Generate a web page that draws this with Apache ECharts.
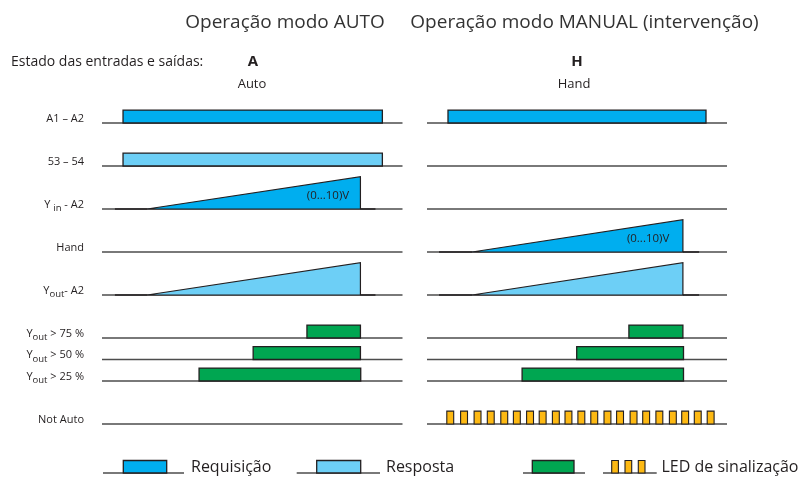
<!DOCTYPE html>
<html><head><meta charset="utf-8">
<script src="https://cdn.jsdelivr.net/npm/echarts@6/dist/echarts.min.js"></script>
<style>html,body{margin:0;padding:0;background:#fff}#c{width:803px;height:477px}</style>
</head><body><div id="c"></div>
<script>
// ---- data ----
// row labels: [main, subscript, tail]
const rowLabels = [['A1 – A2','',''],['53 – 54','',''],['Y ','in',' - A2'],['Hand','',''],['Y','out','- A2'],['Y','out',' > 75 %'],['Y','out',' > 50 %'],['Y','out',' > 25 %'],['Not Auto','','']];
const rowLevels = [0, 2, 4, 6, 8, 10, 11, 12, 14];
// time axis 0..100 per panel
// pulses: [rowIndex, on, off]
const autoPulses = [[0, 7, 93.3], [1, 7, 93.3], [5, 68.2, 86], [6, 50.3, 86], [7, 32.3, 86.1]];
const handPulses = [[0, 7, 93], [5, 67.3, 85.3], [6, 49.9, 85.5], [7, 31.7, 85.5]];
// ramps: [rowIndex, leadStart, rampStart, rampEnd, tailEnd]
const autoRamps = [[2, 4.3, 15, 86, 91], [4, 4.3, 15, 86, 91]];
const handRamps = [[3, 4, 15, 85.3, 90.7], [4, 4, 15, 85.3, 90.7]];
// ramp text: [rowIndex, x]
const rampLabel = '(0...10)V';
const autoRampText = [[2, 75.2]];
const handRampText = [[3, 73.7]];
// LED blink pulses (Not Auto row, hand mode): start times
const ledRow = 8;
const handLedStarts = [6.6, 11.2, 15.7, 20.1, 24.6, 28.8, 33.2, 37.4, 41.8, 46, 50.3, 54.6, 59, 63.2, 67.7, 71.9, 76.3, 80.8, 84.9, 89.1, 93.4];
const ledWidth = 2.3;
const pulseHigh = 0.6;
const rampHigh = 1.5;

// ---- style ----
const FONT = '"Open Sans", sans-serif';
const INK = '#231f20';
const BASE = '#4d4d4d';
const rowFill = ['#00aeef', '#6dcff6', '#00aeef', '#00aeef', '#6dcff6', '#00a651', '#00a651', '#00a651', '#fdb913'];

const chart = echarts.init(document.getElementById('c'), null, {renderer: 'canvas'});

function baseSeries(k) {
  return {type: 'custom', xAxisIndex: k, yAxisIndex: k, clip: false, silent: true,
    data: rowLevels.map(l => [l]),
    renderItem: (p, api) => {
      const l = api.value(0);
      const a = api.coord([0, l]), b = api.coord([100, l]);
      return {type: 'line', shape: {x1: a[0], y1: a[1], x2: b[0], y2: b[1]}, style: {stroke: BASE, lineWidth: 1.5}};
    }};
}
function pulseSeries(k, data) {
  return {type: 'custom', xAxisIndex: k, yAxisIndex: k, clip: false, silent: true, z: 3,
    data: data,
    renderItem: (p, api) => {
      const r = api.value(0), l = rowLevels[r];
      const a = api.coord([api.value(1), l]), b = api.coord([api.value(2), l - pulseHigh]);
      return {type: 'polygon', shape: {points: [[a[0], a[1]], [a[0], b[1]], [b[0], b[1]], [b[0], a[1]]]},
        style: {fill: rowFill[r], stroke: INK, lineWidth: 1.3}};
    }};
}
function rampSeries(k, data) {
  return {type: 'custom', xAxisIndex: k, yAxisIndex: k, clip: false, silent: true, z: 3,
    data: data,
    renderItem: (p, api) => {
      const r = api.value(0), l = rowLevels[r];
      const s0 = api.coord([api.value(1), l]);
      const s1 = api.coord([api.value(2), l]);
      const e = api.coord([api.value(3), l - rampHigh]);
      const e0 = api.coord([api.value(3), l]);
      const t = api.coord([api.value(4), l]);
      return {type: 'group', children: [
        {type: 'polygon', shape: {points: [[s1[0], s1[1]], [e[0], e[1]], [e0[0], e0[1]]]},
          style: {fill: rowFill[r], stroke: INK, lineWidth: 1.2}},
        {type: 'line', shape: {x1: s0[0], y1: s0[1], x2: s1[0], y2: s1[1]}, style: {stroke: INK, lineWidth: 1.5}},
        {type: 'line', shape: {x1: e0[0], y1: e0[1], x2: t[0], y2: t[1]}, style: {stroke: INK, lineWidth: 1.5}}
      ]};
    }};
}
function rampTextSeries(k, data) {
  return {type: 'custom', xAxisIndex: k, yAxisIndex: k, clip: false, silent: true, z: 4,
    data: data,
    renderItem: (p, api) => {
      const l = rowLevels[api.value(0)];
      const c = api.coord([api.value(1), l - 0.6]);
      return {type: 'text', x: c[0], y: c[1], style: {text: rampLabel, align: 'center', verticalAlign: 'middle',
        fontFamily: FONT, fontSize: 11.5, fill: INK}};
    }};
}
const ledSeries = {type: 'custom', xAxisIndex: 1, yAxisIndex: 1, clip: false, silent: true, z: 3,
  data: handLedStarts.map(s => [s]),
  renderItem: (p, api) => {
    const l = rowLevels[ledRow];
    const a = api.coord([api.value(0), l]), b = api.coord([api.value(0) + ledWidth, l - pulseHigh]);
    return {type: 'polygon', shape: {points: [[a[0], a[1]], [a[0], b[1]], [b[0], b[1]], [b[0], a[1]]]},
      style: {fill: rowFill[ledRow], stroke: INK, lineWidth: 1.1}};
  }};
const labelSeries = {type: 'custom', xAxisIndex: 0, yAxisIndex: 0, clip: false, silent: true,
  data: rowLevels.map((l, i) => [l, i]),
  renderItem: (p, api) => {
    const l = api.value(0), i = api.value(1);
    const c = api.coord([0, l]);
    const lab = rowLabels[i];
    const txt = lab[1] ? `{n|${lab[0]}}{s|${lab[1]}}{n|${lab[2]}}` : `{n|${lab[0]}}`;
    return {type: 'text', x: c[0] - 18, y: c[1] - 4.5, style: {text: txt, align: 'right', verticalAlign: 'middle',
      rich: {n: {fontFamily: FONT, fontSize: 11, fill: INK, lineHeight: 18, verticalAlign: 'middle'},
             s: {fontFamily: FONT, fontSize: 9.5, fill: INK, lineHeight: 10, verticalAlign: 'bottom'}}}};
  }};

function xa(k) { return {type: 'value', gridIndex: k, min: 0, max: 100, show: false}; }
function ya(k) { return {type: 'value', gridIndex: k, min: -1, max: 15, inverse: true, show: false}; }

function legendPulse(x0, x1, xl0, xl1, fill) {
  return [
    {type: 'line', shape: {x1: xl0, y1: 473, x2: xl1, y2: 473}, style: {stroke: BASE, lineWidth: 1.5}},
    {type: 'polygon', shape: {points: [[x0, 473], [x0, 460.5], [x1, 460.5], [x1, 473]]}, style: {fill: fill, stroke: INK, lineWidth: 1.3}}
  ];
}
const legendText = (x, t) => ({type: 'text', x: x, y: 467, style: {text: t, fontFamily: FONT, fontSize: 16, fill: INK, verticalAlign: 'middle'}});

const graphic = [
  {type: 'text', x: 285, y: 23, style: {text: 'Operação modo AUTO', fontFamily: FONT, fontSize: 19, fill: '#333', align: 'center', verticalAlign: 'middle'}},
  {type: 'text', x: 584.5, y: 23, style: {text: 'Operação modo MANUAL (intervenção)', fontFamily: FONT, fontSize: 19, fill: '#333', align: 'center', verticalAlign: 'middle'}},
  {type: 'text', x: 11, y: 62, style: {text: 'Estado das entradas e saídas:', fontFamily: FONT, fontSize: 14, fill: INK, verticalAlign: 'middle'}},
  {type: 'text', x: 253, y: 62, style: {text: 'A', fontFamily: FONT, fontSize: 15, fontWeight: 'bold', fill: INK, align: 'center', verticalAlign: 'middle'}},
  {type: 'text', x: 252, y: 84, style: {text: 'Auto', fontFamily: FONT, fontSize: 13, fill: INK, align: 'center', verticalAlign: 'middle'}},
  {type: 'text', x: 577, y: 62, style: {text: 'H', fontFamily: FONT, fontSize: 15, fontWeight: 'bold', fill: INK, align: 'center', verticalAlign: 'middle'}},
  {type: 'text', x: 574, y: 84, style: {text: 'Hand', fontFamily: FONT, fontSize: 13, fill: INK, align: 'center', verticalAlign: 'middle'}},
  ...legendPulse(123.3, 166.7, 103, 184, '#00aeef'),
  legendText(191, 'Requisição'),
  ...legendPulse(316.7, 360.7, 296.7, 380, '#6dcff6'),
  legendText(386, 'Resposta'),
  ...legendPulse(532.3, 574, 523, 585, '#00a651'),
  {type: 'line', shape: {x1: 603, y1: 473, x2: 656.7, y2: 473}, style: {stroke: BASE, lineWidth: 1.5}},
  ...[611.7, 625, 638.3].map(x => ({type: 'polygon', shape: {points: [[x, 473], [x, 460.5], [x + 6.7, 460.5], [x + 6.7, 473]]}, style: {fill: '#fdb913', stroke: INK, lineWidth: 1.1}})),
  legendText(661.5, 'LED de sinalização')
];

chart.setOption({
  animation: false,
  backgroundColor: '#fff',
  grid: [
    {left: 102, width: 300.5, top: 101.5, height: 344},
    {left: 427, width: 300, top: 101.5, height: 344}
  ],
  xAxis: [xa(0), xa(1)],
  yAxis: [ya(0), ya(1)],
  series: [
    baseSeries(0), baseSeries(1),
    pulseSeries(0, autoPulses), pulseSeries(1, handPulses),
    rampSeries(0, autoRamps), rampSeries(1, handRamps),
    rampTextSeries(0, autoRampText), rampTextSeries(1, handRampText),
    ledSeries, labelSeries
  ],
  graphic: graphic
});
</script></body></html>
